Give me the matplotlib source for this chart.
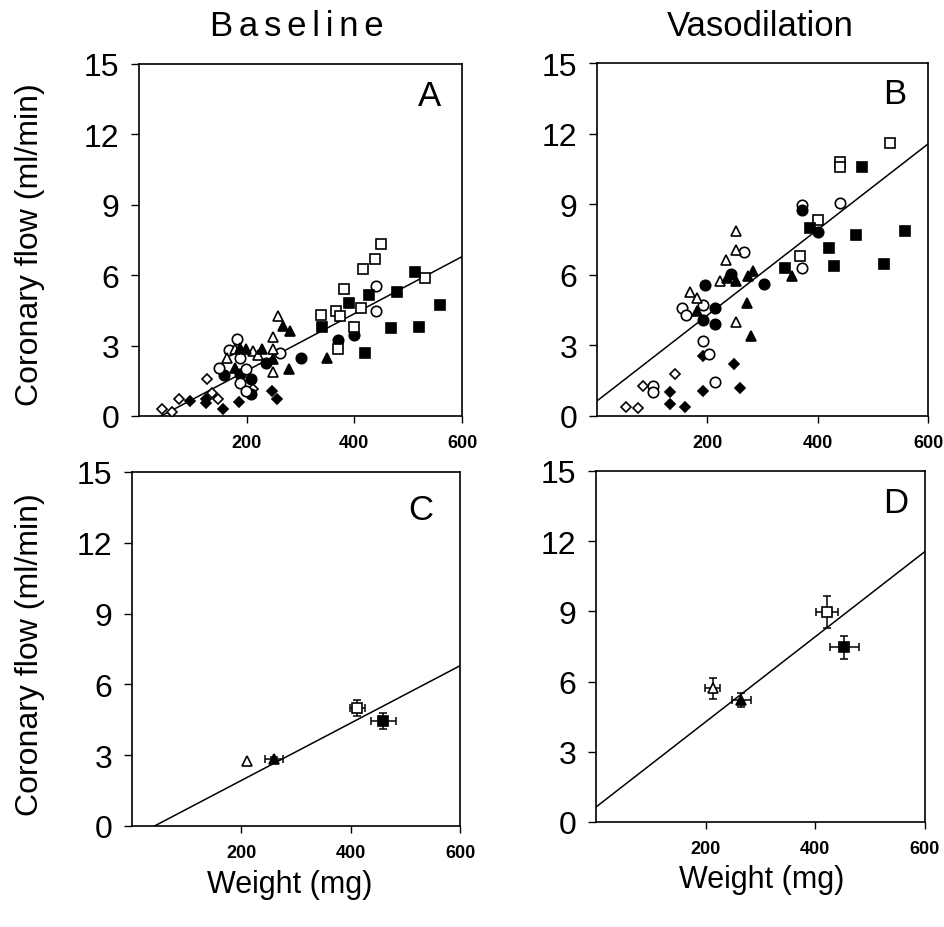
import numpy as np
import matplotlib
matplotlib.use("Agg")
import matplotlib.pyplot as plt

plt.rcParams["font.family"] = ["Liberation Sans", "DejaVu Sans"]

# group codes: od/fd = open/filled diamond, oc/fc circle, ot/ft triangle, os/fs square
base_x = [43, 62, 74, 127, 135, 147, 211,
          94, 125, 125, 156, 186, 247, 256,
          158, 208, 236, 300, 369, 399, 208, 187,
          182, 168, 188, 148, 187, 198, 262, 199, 441, 441,
          163, 179, 211, 221, 249, 249, 249, 259,
          199, 228, 249, 268, 280, 279, 349, 187, 179,
          338, 366, 373, 381, 370, 400, 417, 439, 450, 413, 532,
          340, 391, 419, 428, 480, 468, 513, 520, 560]
base_y = [0.30, 0.15, 0.72, 1.58, 1.00, 0.72, 1.17,
          0.62, 0.72, 0.57, 0.31, 0.60, 1.07, 0.71,
          1.74, 1.56, 2.25, 2.49, 3.23, 3.44, 0.92, 1.78,
          3.27, 2.82, 2.49, 2.06, 1.42, 1.07, 2.70, 1.99, 5.55, 4.48,
          2.49, 2.84, 2.77, 2.59, 3.37, 2.87, 1.88, 4.27,
          2.84, 2.84, 2.42, 3.84, 3.63, 1.99, 2.49, 2.90, 2.06,
          4.30, 4.48, 4.27, 5.41, 2.87, 3.81, 6.26, 6.69, 7.33, 4.62, 5.86,
          3.81, 4.81, 2.70, 5.15, 5.30, 3.77, 6.12, 3.81, 4.72]
base_grp = (["od"] * 7 + ["fd"] * 7 + ["fc"] * 8 + ["oc"] * 10 + ["ot"] * 8
            + ["ft"] * 9 + ["os"] * 11 + ["fs"] * 9)

vaso_x = [53, 74, 83, 141,
          132, 132, 160, 192, 248, 260, 192,
          102, 102, 214, 192, 203, 154, 161, 192, 266, 372, 440, 371,
          195, 213, 193, 213, 243, 303, 371, 401,
          169, 182, 223, 234, 252, 252, 252,
          182, 235, 252, 273, 282, 271, 280, 353,
          401, 368, 440, 440, 532,
          341, 387, 421, 430, 469, 481, 521, 558]
vaso_y = [0.38, 0.34, 1.28, 1.79,
          1.02, 0.51, 0.38, 1.07, 2.20, 1.17, 2.56,
          1.28, 1.02, 1.45, 3.20, 2.65, 4.60, 4.30, 4.70, 6.97, 6.29, 9.03, 8.96,
          5.58, 4.58, 4.08, 3.91, 6.05, 5.62, 8.75, 7.82,
          5.26, 5.00, 5.72, 6.61, 7.07, 7.85, 4.01,
          4.45, 5.86, 5.75, 5.93, 6.15, 4.79, 3.41, 5.93,
          8.32, 6.79, 10.81, 10.57, 11.59,
          6.29, 7.97, 7.15, 6.37, 7.68, 10.57, 6.47, 7.87]
vaso_grp = (["od"] * 4 + ["fd"] * 7 + ["oc"] * 12 + ["fc"] * 8 + ["ot"] * 7
            + ["ft"] * 8 + ["os"] * 5 + ["fs"] * 8)

# group means +/- SEM (panels C and D)
mean_grp = ["ot", "ft", "os", "fs"]
base_mx = [210, 260, 412, 460]
base_my = [2.76, 2.83, 5.02, 4.46]
base_xerr = [0, 17, 14, 23]
base_yerr = [0, 0.10, 0.34, 0.33]
vaso_mx = [213, 265, 421, 453]
vaso_my = [5.72, 5.23, 8.96, 7.47]
vaso_xerr = [14, 17, 20, 26]
vaso_yerr = [0.45, 0.30, 0.68, 0.50]

# regression lines: intercept, slope
base_fit = (-0.50, 0.01215)
vaso_fit = (0.64, 0.0182)

MARKERS = {"d": ("D", 5.5), "c": ("o", 7.5), "t": ("^", 7.5), "s": ("s", 7.5)}


def style(code):
    m, ms = MARKERS[code[1]]
    face = "white" if code[0] == "o" else "black"
    return m, ms, face


def setup_axes(ax, letter, lx, ly):
    ax.set_xlim(0, 600)
    ax.set_ylim(0, 15)
    ax.set_xticks([200, 400, 600])
    ax.set_yticks([0, 3, 6, 9, 12, 15])
    ax.tick_params(axis="y", direction="out", length=6, width=1, labelsize=23, pad=8)
    ax.tick_params(axis="x", direction="out", length=5, width=1, labelsize=13, pad=8)
    for lab in ax.get_xticklabels():
        lab.set_fontweight("bold")
    for sp in ax.spines.values():
        sp.set_linewidth(1.2)
    ax.text(lx, ly, letter, transform=ax.transAxes, fontsize=25,
            ha="center", va="center")


def draw_fit(ax, fit):
    a, b = fit
    x0 = max(0.0, -a / b)
    xs = np.array([x0, 600.0])
    ax.plot(xs, a + b * xs, color="black", lw=1.1, zorder=1)


def draw_points(ax, xs, ys, grps):
    for x, y, g in zip(xs, ys, grps):
        m, ms, face = style(g)
        ax.plot(x, y, marker=m, ms=ms, mfc=face, mec="black", mew=1.2,
                ls="none", zorder=3)


def draw_means(ax, xs, ys, xerr, yerr):
    for x, y, ex, ey, g in zip(xs, ys, xerr, yerr, mean_grp):
        m, ms, face = style(g)
        ax.errorbar(x, y, xerr=ex or None, yerr=ey or None, fmt="none",
                    ecolor="black", elinewidth=1.1, capsize=3, capthick=1.1, zorder=2)
        ax.plot(x, y, marker=m, ms=ms, mfc=face, mec="black", mew=1.2,
                ls="none", zorder=3)


fig = plt.figure(figsize=(9.45, 9.28), dpi=100)
W, H = 945, 928


def add_ax(left, top, right, bottom):
    return fig.add_axes([left / W, 1 - bottom / H, (right - left) / W, (bottom - top) / H])


axA = add_ax(139, 65, 462, 417)
axB = add_ax(597, 64, 928, 417)
axC = add_ax(132, 473, 460, 827)
axD = add_ax(596, 472, 925, 823)

draw_fit(axA, base_fit)
draw_points(axA, base_x, base_y, base_grp)
setup_axes(axA, "A", 0.90, 0.91)

draw_fit(axB, vaso_fit)
draw_points(axB, vaso_x, vaso_y, vaso_grp)
setup_axes(axB, "B", 0.90, 0.915)

draw_fit(axC, base_fit)
draw_means(axC, base_mx, base_my, base_xerr, base_yerr)
setup_axes(axC, "C", 0.88, 0.895)

draw_fit(axD, vaso_fit)
draw_means(axD, vaso_mx, vaso_my, vaso_xerr, vaso_yerr)
setup_axes(axD, "D", 0.91, 0.91)

# the "Baseline" heading is set with wide letter spacing in the original
spaced = "\u2006".join("Baseline")
fig.text(297 / W, 1 - 27 / H, spaced, fontsize=25, ha="center", va="center")
fig.text(760 / W, 1 - 27 / H, "Vasodilation", fontsize=25, ha="center", va="center")
fig.text(30 / W, 1 - 245 / H, "Coronary flow (ml/min)", fontsize=23,
         rotation=90, ha="center", va="center")
fig.text(30 / W, 1 - 655 / H, "Coronary flow (ml/min)", fontsize=23,
         rotation=90, ha="center", va="center")
fig.text(290 / W, 1 - 885 / H, "Weight (mg)", fontsize=22, ha="center", va="center")
fig.text(762 / W, 1 - 880 / H, "Weight (mg)", fontsize=22, ha="center", va="center")

fig.savefig("out.png", dpi=100)
